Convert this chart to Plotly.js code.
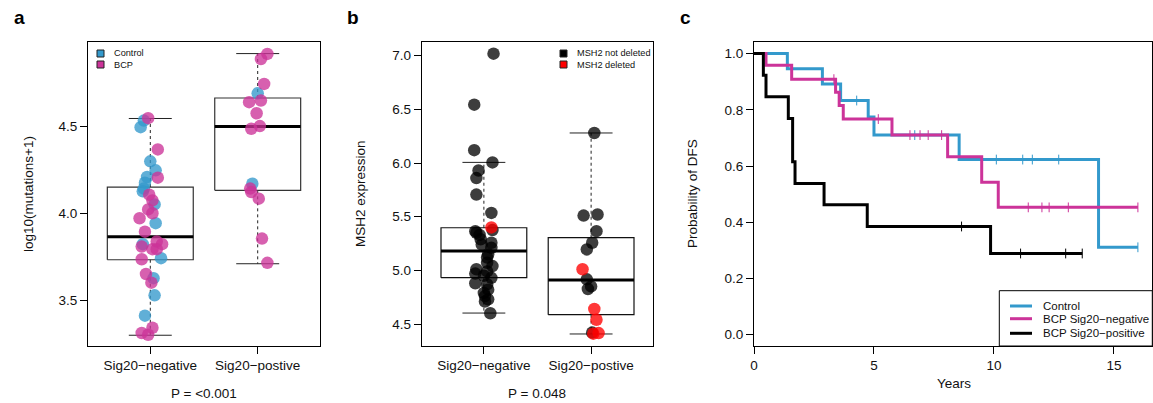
<!DOCTYPE html>
<html>
<head>
<meta charset="utf-8">
<script src="https://cdn.plot.ly/plotly-3.0.1.min.js"></script>
<style>
  html, body { margin: 0; padding: 0; background: #fff; }
  #chart { width: 1153px; height: 403px; }
</style>
</head>
<body>
<div id="chart"></div>
<script>
// ---------- Panel a: mutation burden by Sig20 status ----------
const groupLabels = ['Sig20\u2212negative', 'Sig20\u2212postive'];

const aNegControl = [4.534, 4.496, 4.299, 4.247, 4.209, 4.176, 4.142, 4.126, 4.051, 3.943, 3.822, 3.741, 3.626, 3.527, 3.410];
const aNegControlJitter = [-0.06, -0.09, 0, 0.05, -0.03, -0.05, -0.06, -0.07, 0.04, 0.05, -0.07, 0.10, 0.03, 0.04, -0.05];
const aNegBCP = [4.548, 4.368, 4.205, 4.107, 4.074, 4.022, 4.000, 3.971, 3.894, 3.837, 3.822, 3.808, 3.793, 3.793, 3.735, 3.650, 3.600, 3.340, 3.310, 3.300];
const aNegBCPJitter = [-0.02, 0.07, 0.07, -0.01, 0.02, -0.02, 0.02, -0.10, -0.05, 0.06, 0.11, -0.08, 0.02, 0.06, -0.08, -0.04, 0.01, 0.02, -0.08, -0.02];
const aPosControl = [4.691, 4.170];
const aPosControlJitter = [0, -0.05];
const aPosBCP = [4.918, 4.889, 4.745, 4.649, 4.640, 4.576, 4.502, 4.487, 4.142, 4.122, 4.084, 3.854, 3.714];
const aPosBCPJitter = [0.09, 0.03, 0.06, 0.03, -0.08, -0.01, 0.02, -0.06, -0.07, -0.06, 0.01, 0.04, 0.09];

// box statistics: lower whisker, Q1, median, Q3, upper whisker
const aLower = [3.297, 3.709];
const aQ1 = [3.732, 4.132];
const aMedian = [3.864, 4.500];
const aQ3 = [4.151, 4.664];
const aUpper = [4.546, 4.920];
const aPText = 'P = <0.001';

// ---------- Panel b: MSH2 expression ----------
const bNegKept = [7.019, 6.544, 6.120, 6.006, 5.930, 5.860, 5.706, 5.535, 5.375, 5.365, 5.350, 5.330, 5.290, 5.257, 5.240, 5.210, 5.150, 5.120, 5.070, 5.040, 5.010, 4.990, 4.970, 4.950, 4.930, 4.880, 4.870, 4.820, 4.790, 4.760, 4.730, 4.710, 4.600];
const bNegKeptJitter = [0.09, -0.09, -0.09, 0.08, -0.05, -0.07, -0.07, 0.07, 0.08, -0.08, -0.07, -0.04, -0.03, 0.07, -0.02, 0.07, 0.04, 0.03, 0.03, 0.08, -0.07, 0.03, -0.08, 0, 0.07, -0.08, 0.03, 0.04, 0, 0.01, 0.04, 0.01, 0.06];
const bNegDeleted = [5.40];
const bNegDeletedJitter = [0.07];
const bPosKept = [6.28, 5.52, 5.51, 5.365, 5.257, 5.195, 4.916, 4.85, 4.826, 4.42];
const bPosKeptJitter = [0.03, 0.06, -0.07, 0.05, 0.01, -0.04, -0.04, 0, -0.03, 0.01];
const bPosDeleted = [5.01, 4.64, 4.54, 4.41, 4.415];
const bPosDeletedJitter = [-0.08, 0.03, 0.05, 0.02, 0.07];

const bLower = [4.602, 4.407];
const bQ1 = [4.932, 4.587];
const bMedian = [5.180, 4.910];
const bQ3 = [5.397, 5.304];
const bUpper = [6.006, 6.280];
const bPText = 'P = 0.048';

// ---------- Panel c: disease-free survival ----------
const kmNames = ['Control', 'BCP Sig20\u2212negative', 'BCP Sig20\u2212positive'];
const ctrlTimes = [0, 1.39, 2.85, 3.61, 4.76, 5.0, 8.55, 14.36, 16.0];
const ctrlSurv = [1, 0.946, 0.892, 0.833, 0.774, 0.710, 0.623, 0.311, 0.311];
const ctrlCensor = [4.28, 6.7, 10.1, 11.2, 11.6, 12.7, 16.0];
const negTimes = [0, 0.5, 1.57, 3.4, 3.55, 3.72, 5.75, 8.07, 9.49, 10.18, 16.0];
const negSurv = [1, 0.958, 0.909, 0.862, 0.815, 0.767, 0.710, 0.633, 0.542, 0.453, 0.453];
const negCensor = [3.33, 5.18, 6.5, 6.92, 7.26, 7.82, 11.43, 12.0, 12.3, 13.1, 16.0];
const posTimes = [0, 0.39, 0.5, 1.43, 1.61, 1.71, 2.92, 4.72, 9.86, 13.68];
const posSurv = [1, 0.923, 0.846, 0.769, 0.615, 0.538, 0.462, 0.385, 0.289, 0.289];
const posCensor = [8.65, 11.11, 12.99, 13.68];

// ---------- styling ----------
const BLUE = '#3399cc', PINK = '#cc3399';
const BLUE_PT = 'rgba(51,153,204,0.78)', PINK_PT = 'rgba(204,51,153,0.78)';
const BLACK_PT = 'rgba(0,0,0,0.76)', RED_PT = 'rgba(255,0,0,0.78)';
const FONT = 'Liberation Sans, Arial, Helvetica, sans-serif';
const W = 1153, H = 403;
const PX = v => v / W;
const PY = v => 1 - v / H;

const traces = [];

function boxTraces(xa, ya, lower, q1, med, q3, upper, color) {
  for (let i = 0; i < med.length; i++) {
    const c = i + 1;
    // dashed whiskers
    traces.push({ x: [c, c], y: [q3[i], upper[i]], xaxis: xa, yaxis: ya, mode: 'lines',
      line: { color: '#222', width: 1, dash: '3px,3px' }, hoverinfo: 'skip', showlegend: false });
    traces.push({ x: [c, c], y: [q1[i], lower[i]], xaxis: xa, yaxis: ya, mode: 'lines',
      line: { color: '#222', width: 1, dash: '3px,3px' }, hoverinfo: 'skip', showlegend: false });
    // whisker caps
    traces.push({ x: [c - 0.2, c + 0.2], y: [upper[i], upper[i]], xaxis: xa, yaxis: ya, mode: 'lines',
      line: { color: '#222', width: 1 }, hoverinfo: 'skip', showlegend: false });
    traces.push({ x: [c - 0.2, c + 0.2], y: [lower[i], lower[i]], xaxis: xa, yaxis: ya, mode: 'lines',
      line: { color: '#222', width: 1 }, hoverinfo: 'skip', showlegend: false });
    // box outline
    traces.push({ x: [c - 0.4, c + 0.4, c + 0.4, c - 0.4, c - 0.4], y: [q1[i], q1[i], q3[i], q3[i], q1[i]],
      xaxis: xa, yaxis: ya, mode: 'lines', line: { color: color, width: 1.2 }, hoverinfo: 'skip', showlegend: false });
    // median
    traces.push({ x: [c - 0.4, c + 0.4], y: [med[i], med[i]], xaxis: xa, yaxis: ya, mode: 'lines',
      line: { color: '#000', width: 3 }, hoverinfo: 'skip', showlegend: false });
  }
}

function pointTrace(xa, ya, group, vals, jitter, color) {
  traces.push({
    x: vals.map((v, i) => group + jitter[i]), y: vals, xaxis: xa, yaxis: ya,
    mode: 'markers', marker: { color: color, size: 12.5, line: { width: 0 } },
    showlegend: false, hoverinfo: 'y'
  });
}

boxTraces('x', 'y', aLower, aQ1, aMedian, aQ3, aUpper, '#333');
pointTrace('x', 'y', 1, aNegControl, aNegControlJitter, BLUE_PT);
pointTrace('x', 'y', 1, aNegBCP, aNegBCPJitter, PINK_PT);
pointTrace('x', 'y', 2, aPosControl, aPosControlJitter, BLUE_PT);
pointTrace('x', 'y', 2, aPosBCP, aPosBCPJitter, PINK_PT);

boxTraces('x2', 'y2', bLower, bQ1, bMedian, bQ3, bUpper, '#111');
pointTrace('x2', 'y2', 1, bNegKept, bNegKeptJitter, BLACK_PT);
pointTrace('x2', 'y2', 1, bNegDeleted, bNegDeletedJitter, RED_PT);
pointTrace('x2', 'y2', 2, bPosKept, bPosKeptJitter, BLACK_PT);
pointTrace('x2', 'y2', 2, bPosDeleted, bPosDeletedJitter, RED_PT);

// Kaplan-Meier step curves with censoring ticks
function survAt(times, surv, t) {
  let s = surv[0];
  for (let i = 0; i < times.length; i++) if (times[i] <= t) s = surv[i];
  return s;
}
function kmTraces(times, surv, censor, color, name) {
  traces.push({ x: times, y: surv, xaxis: 'x3', yaxis: 'y3', mode: 'lines', name: name,
    line: { shape: 'hv', color: color, width: 3 }, showlegend: false });
  traces.push({ x: censor, y: censor.map(t => survAt(times, surv, t)), xaxis: 'x3', yaxis: 'y3',
    mode: 'markers', marker: { symbol: 'line-ns-open', size: 7, color: color, line: { color: color, width: 1 } },
    showlegend: false, hoverinfo: 'skip' });
}
kmTraces(ctrlTimes, ctrlSurv, ctrlCensor, BLUE, kmNames[0]);
kmTraces(negTimes, negSurv, negCensor, PINK, kmNames[1]);
kmTraces(posTimes, posSurv, posCensor, '#000', kmNames[2]);

// ---------- axes ----------
const tickFont = { family: FONT, size: 13.5, color: '#111' };
function axisBase(extra) {
  return Object.assign({
    showline: true, mirror: true, linecolor: '#000', linewidth: 1,
    ticks: 'outside', ticklen: 7, tickwidth: 1, tickcolor: '#000',
    showgrid: false, zeroline: false, tickfont: tickFont, fixedrange: true
  }, extra);
}

const yDomain = [PY(346), PY(42.3)];

const layout = {
  width: W, height: H,
  margin: { l: 0, r: 0, t: 0, b: 0 },
  paper_bgcolor: '#fff', plot_bgcolor: '#fff',
  font: { family: FONT, color: '#111' },
  showlegend: false,
  xaxis: axisBase({ domain: [PX(88), PX(320)], range: [0.42, 2.58], tickvals: [1, 2], ticktext: groupLabels, anchor: 'y' }),
  yaxis: axisBase({ domain: yDomain, range: [3.235, 4.985], tickvals: [3.5, 4.0, 4.5], tickformat: '.1f', anchor: 'x' }),
  xaxis2: axisBase({ domain: [PX(421.7), PX(653.3)], range: [0.42, 2.58], tickvals: [1, 2], ticktext: groupLabels, anchor: 'y2' }),
  yaxis2: axisBase({ domain: yDomain, range: [4.295, 7.125], tickvals: [4.5, 5.0, 5.5, 6.0, 6.5, 7.0], tickformat: '.1f', anchor: 'x2' }),
  xaxis3: axisBase({ domain: [PX(754), PX(1152.3)], range: [0, 16.6], tickvals: [0, 5, 10, 15], anchor: 'y3' }),
  yaxis3: axisBase({ domain: yDomain, range: [-0.04, 1.04], tickvals: [0, 0.2, 0.4, 0.6, 0.8, 1.0], tickformat: '.1f', anchor: 'x3' }),
  annotations: [],
  shapes: []
};

function label(text, x, y, opts) {
  layout.annotations.push(Object.assign({
    text: text, xref: 'paper', yref: 'paper', x: PX(x), y: PY(y),
    showarrow: false, xanchor: 'center', yanchor: 'middle',
    font: { family: FONT, size: 13.5, color: '#111' }
  }, opts || {}));
}

// panel letters
label('<b>a</b>', 12, 18, { xanchor: 'left', font: { family: FONT, size: 19, color: '#000' } });
label('<b>b</b>', 345, 18, { xanchor: 'left', font: { family: FONT, size: 19, color: '#000' } });
label('<b>c</b>', 678, 18, { xanchor: 'left', font: { family: FONT, size: 19, color: '#000' } });

// axis titles
label('log10(mutations+1)', 28, 194, { textangle: -90 });
label('MSH2 expression', 360, 194, { textangle: -90 });
label('Probability of DFS', 692, 194, { textangle: -90 });
label('Years', 954, 383);

// p-values
label(aPText, 204, 393);
label(bPText, 537, 393);

// legend glyphs: filled squares
function squareKey(x, y, fill, text) {
  layout.shapes.push({ type: 'rect', xref: 'paper', yref: 'paper',
    x0: PX(x), x1: PX(x + 7), y0: PY(y + 7), y1: PY(y),
    fillcolor: fill, line: { color: '#222', width: 1 } });
  label(text, x + 15, y + 3.5, { xanchor: 'left', font: { family: FONT, size: 9.2, color: '#111' } });
}
squareKey(97, 50, BLUE, 'Control');
squareKey(97, 61, PINK, 'BCP');
squareKey(560, 50, '#000', 'MSH2 not deleted');
squareKey(560, 61, '#ff0000', 'MSH2 deleted');

// survival legend
layout.shapes.push({ type: 'rect', xref: 'paper', yref: 'paper',
  x0: PX(999.3), x1: PX(1152.3), y0: PY(346), y1: PY(290.7),
  fillcolor: '#fff', line: { color: '#000', width: 1 } });
const kmColors = [BLUE, PINK, '#000'];
const keyRows = [306, 318.7, 333.3];
kmNames.forEach((n, i) => {
  layout.shapes.push({ type: 'line', xref: 'paper', yref: 'paper',
    x0: PX(1010), x1: PX(1032), y0: PY(keyRows[i]), y1: PY(keyRows[i]),
    line: { color: kmColors[i], width: 3 } });
  label(n, 1041, keyRows[i], { xanchor: 'left', font: { family: FONT, size: 11.5, color: '#111' } });
});

Plotly.newPlot('chart', traces, layout, { staticPlot: true, displayModeBar: false });
</script>
</body>
</html>
